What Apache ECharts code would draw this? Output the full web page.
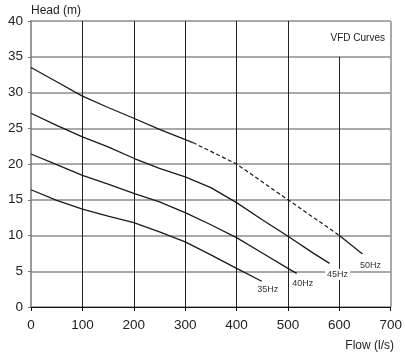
<!DOCTYPE html>
<html>
<head>
<meta charset="utf-8">
<script src="https://cdn.jsdelivr.net/npm/echarts@6/dist/echarts.min.js"></script>
<style>html,body{margin:0;padding:0;background:#fff}#c{width:405px;height:353px}</style>
</head>
<body>
<div id="c"></div>
<script>
// ---- data ----
const xTicks = [0, 100, 200, 300, 400, 500, 600, 700];
const yTicks = [0, 5, 10, 15, 20, 25, 30, 35, 40];
const flow35 = [0, 50, 100, 150, 200, 250, 300, 350, 400, 449];
const head35 = [16.4, 14.9, 13.7, 12.7, 11.8, 10.5, 9.1, 7.3, 5.4, 3.6];
const flow40 = [0, 50, 100, 150, 200, 250, 300, 350, 400, 450, 500, 517];
const head40 = [21.4, 19.9, 18.4, 17.2, 15.9, 14.7, 13.2, 11.5, 9.7, 7.55, 5.4, 4.7];
const flow45 = [0, 50, 100, 150, 200, 250, 300, 350, 400, 450, 500, 550, 581];
const head45 = [27.1, 25.4, 23.8, 22.4, 20.8, 19.4, 18.2, 16.7, 14.6, 12.2, 9.9, 7.5, 6.1];
const flow50a = [0, 50, 100, 150, 200, 250, 315];
const head50a = [33.5, 31.5, 29.5, 27.9, 26.4, 24.85, 23.0];
const flow50b = [315, 400, 500, 600];
const head50b = [23.0, 20.0, 15.0, 10.0];
const flow50c = [600, 645];
const head50c = [10.0, 7.4];
const curveNames = ['35Hz', '40Hz', '45Hz', '50Hz'];
const gridXFull = [100, 200, 300, 400, 500];
const gridXShort = [600];   // stops under the "VFD Curves" box
const boxBottom = 35;

const zip = (a, b) => a.map((v, i) => [v, b[i]]);
const lineColor = '#1a1a1a';
const font = 'Liberation Sans, Arial, Helvetica, sans-serif';

function endMark(fx, hy, name, off) {
  const n = fx.length - 1;
  return {
    symbol: 'circle', symbolSize: 0, silent: true, animation: false,
    data: [{ coord: [fx[n], hy[n]] }],
    label: {
      show: true, formatter: name, position: 'inside', offset: off,
      fontSize: 9, color: '#333', fontFamily: font,
      backgroundColor: '#fff', padding: [1, 2]
    }
  };
}

const vLines = [];
gridXFull.forEach(x => vLines.push([{ coord: [x, 0] }, { coord: [x, 40] }]));
gridXShort.forEach(x => vLines.push([{ coord: [x, 0] }, { coord: [x, boxBottom] }]));
vLines.push([{ coord: [700, 0], lineStyle: { color: '#8c8c8c', width: 1.5 } }, { coord: [700, 40] }]);

const baseLine = (data, extra) => Object.assign({
  type: 'line', data: data, symbol: 'none', smooth: false,
  lineStyle: { color: lineColor, width: 1.3 }, animation: false, silent: true, z: 3
}, extra || {});

const chart = echarts.init(document.getElementById('c'), null, { renderer: 'canvas' });
chart.setOption({
  backgroundColor: '#fff',
  animation: false,
  textStyle: { fontFamily: font },
  title: [
    { text: 'VFD Curves', right: 20, top: 33, padding: 0,
      textStyle: { fontSize: 10, fontWeight: 'normal', color: '#222', fontFamily: font } },
    { text: 'Flow (l/s)', right: 11, top: 340, padding: 0,
      textStyle: { fontSize: 12, fontWeight: 'normal', color: '#222', fontFamily: font } }
  ],
  grid: { left: 31, right: 11, top: 21, bottom: 46, containLabel: false },
  xAxis: {
    type: 'value', min: 0, max: 700, interval: 100,
    axisLine: { show: true, lineStyle: { color: '#111', width: 1 } },
    axisTick: { show: true, length: 4, lineStyle: { color: '#111' } },
    axisLabel: { margin: 11, fontSize: 13.5, color: '#222', fontFamily: font,
      formatter: v => xTicks.includes(v) ? String(v) : '' },
    splitLine: { show: false }
  },
  yAxis: {
    type: 'value', min: 0, max: 40, interval: 5,
    name: 'Head (m)', nameLocation: 'end', nameGap: 4,
    nameTextStyle: { align: 'left', fontSize: 12, color: '#222', fontFamily: font, padding: [0, 0, 0, 0] },
    axisLine: { show: true, lineStyle: { color: '#777', width: 1.5 } },
    axisTick: { show: true, length: 3, lineStyle: { color: '#777' } },
    axisLabel: { margin: 8, fontSize: 13.5, color: '#222', fontFamily: font,
      formatter: v => yTicks.includes(v) ? String(v) : '' },
    splitLine: { show: true, lineStyle: { color: '#8c8c8c', width: 1.5 } }
  },
  series: [
    baseLine(zip(flow35, head35), {
      name: curveNames[0],
      markLine: { symbol: ['none', 'none'], silent: true, animation: false, z: 1,
        label: { show: false }, lineStyle: { color: '#222', width: 1, type: 'solid' },
        emphasis: { disabled: true }, data: vLines },
      markPoint: endMark(flow35, head35, curveNames[0], [6, 8])
    }),
    baseLine(zip(flow40, head40), { name: curveNames[1], markPoint: endMark(flow40, head40, curveNames[1], [6, 10]) }),
    baseLine(zip(flow45, head45), { name: curveNames[2], markPoint: endMark(flow45, head45, curveNames[2], [8, 11]) }),
    baseLine(zip(flow50a, head50a), { name: curveNames[3] }),
    baseLine(zip(flow50b, head50b), { name: curveNames[3] + ' ext',
      lineStyle: { color: lineColor, width: 1.2, type: [4, 2.5] } }),
    baseLine(zip(flow50c, head50c), { name: curveNames[3] + ' end',
      markPoint: endMark(flow50c, head50c, curveNames[3], [8, 11]) })
  ]
});
</script>
</body>
</html>
